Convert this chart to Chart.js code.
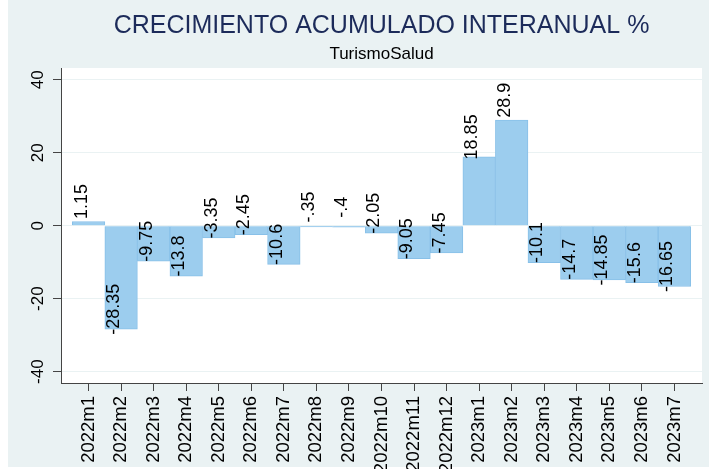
<!DOCTYPE html>
<html>
<head>
<meta charset="utf-8">
<script src="https://cdn.jsdelivr.net/npm/chart.js@4.4.0/dist/chart.umd.min.js"></script>
<style>
  html, body { margin: 0; padding: 0; background: #fff; }
  #wrap { width: 709px; height: 469px; position: relative; }
</style>
</head>
<body>
<div id="wrap"><canvas id="crecChart"></canvas></div>
<script>
const months = ['2022m1', '2022m2', '2022m3', '2022m4', '2022m5', '2022m6', '2022m7', '2022m8', '2022m9', '2022m10',
  '2022m11', '2022m12', '2023m1', '2023m2', '2023m3', '2023m4', '2023m5', '2023m6', '2023m7'];
const growth = [1.15, -28.35, -9.75, -13.8, -3.35, -2.45, -10.6, -0.35, -0.4, -2.05,
  -9.05, -7.45, 18.85, 28.9, -10.1, -14.7, -14.85, -15.6, -16.65];
const yTicks = [-40, -20, 0, 20, 40];
const titleText = 'CRECIMIENTO ACUMULADO INTERANUAL %';
const subtitleText = 'TurismoSalud';

// Stata style: no leading zero ("-.35")
function fmt(v) {
  let s = String(Math.abs(v));
  if (s.startsWith('0.')) s = s.slice(1);
  return (v < 0 ? '-' : '') + s;
}

const FONT = "'Liberation Sans', Arial, sans-serif";

// graph region / plot region colours, and titles centred on the plot region
const background = {
  id: 'background',
  beforeDraw(chart) {
    const ctx = chart.ctx;
    const a = chart.chartArea;
    ctx.save();
    ctx.fillStyle = '#ffffff';
    ctx.fillRect(0, 0, chart.width, chart.height);
    ctx.fillStyle = '#eaf2f3';
    ctx.fillRect(8, 0, chart.width - 8, chart.height - 2);
    ctx.fillStyle = '#ffffff';
    ctx.fillRect(a.left, a.top, a.right - a.left, a.bottom - a.top);
    const cx = (a.left + a.right) / 2;
    ctx.textAlign = 'center';
    ctx.textBaseline = 'alphabetic';
    ctx.fillStyle = '#1c2b5a';
    ctx.font = '25px ' + FONT;
    ctx.fillText(titleText, cx, 33);
    ctx.fillStyle = '#000';
    ctx.font = '17px ' + FONT;
    ctx.fillText(subtitleText, cx, 59);
    ctx.restore();
  }
};

const barLabels = {
  id: 'barLabels',
  afterDatasetsDraw(chart) {
    const ctx = chart.ctx;
    const meta = chart.getDatasetMeta(0);
    ctx.save();
    ctx.font = '18px ' + FONT;
    ctx.fillStyle = '#000';
    ctx.textAlign = 'center';
    ctx.textBaseline = 'middle';
    meta.data.forEach((bar, i) => {
      ctx.save();
      ctx.translate(bar.x - 7, bar.y - 20);
      ctx.rotate(-Math.PI / 2);
      ctx.fillText(fmt(growth[i]), 0, 0);
      ctx.restore();
    });
    ctx.restore();
  }
};

const ctx = document.getElementById('crecChart').getContext('2d');
new Chart(ctx, {
  type: 'bar',
  data: {
    datasets: [{
      data: growth.map((v, i) => ({ x: i + 1, y: v })),
      backgroundColor: '#9ccdee',
      borderColor: '#88c0e8',
      borderWidth: 1,
      barPercentage: 1,
      categoryPercentage: 1
    }]
  },
  options: {
    responsive: true,
    maintainAspectRatio: false,
    animation: false,
    layout: { padding: { left: 8, right: 7, top: 68, bottom: 0 } },
    plugins: {
      legend: { display: false },
      tooltip: { enabled: false },
      title: { display: false },
      subtitle: { display: false }
    },
    scales: {
      x: {
        type: 'linear',
        offset: false,
        min: 0.153,
        max: 19.847,
        afterBuildTicks: s => { s.ticks = months.map((m, i) => ({ value: i + 1 })); },
        afterFit: s => { s.height = 86; },
        ticks: {
          autoSkip: false,
          minRotation: 90,
          maxRotation: 90,
          padding: 5,
          color: '#000',
          font: { family: FONT, size: 18.5 },
          callback: v => months[v - 1]
        },
        grid: { offset: false, drawOnChartArea: false, tickLength: 8, tickColor: '#444' },
        border: { color: '#444' }
      },
      y: {
        min: -43.1,
        max: 43.2,
        afterBuildTicks: s => { s.ticks = yTicks.map(v => ({ value: v })); },
        afterFit: s => { s.width = 53; },
        ticks: {
          minRotation: 90,
          maxRotation: 90,
          crossAlign: 'center',
          padding: 2,
          color: '#000',
          font: { family: FONT, size: 17 },
          callback: v => String(v)
        },
        grid: { color: '#eaf2f3', tickLength: 8, tickColor: '#444', z: 0 },
        border: { color: '#444' }
      }
    }
  },
  plugins: [background, barLabels]
});
</script>
</body>
</html>
